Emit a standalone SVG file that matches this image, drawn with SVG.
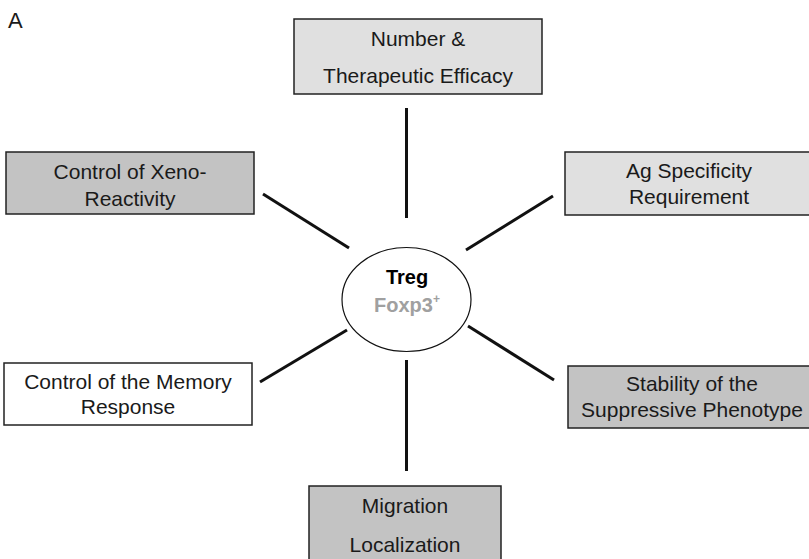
<svg xmlns="http://www.w3.org/2000/svg" width="809" height="559" viewBox="0 0 809 559">
<style>
.box{stroke:#222;stroke-width:1.5}
.light{fill:#e0e0e0}
.dark{fill:#c3c3c3}
.white{fill:#ffffff}
.t{font-family:"Liberation Sans",Arial,sans-serif;font-size:21px;fill:#1a1a1a;text-anchor:middle}
.c{stroke:#111;stroke-width:3;fill:none}
</style>
<rect width="809" height="559" fill="#fff"/>
<text x="8" y="28" style="font-family:'Liberation Sans',Arial,sans-serif;font-size:22px;fill:#1a1a1a">A</text>
<g id="connectors">
<line class="c" x1="406.5" y1="108" x2="406.5" y2="218"/>
<line class="c" x1="263" y1="194" x2="349" y2="248"/>
<line class="c" x1="466" y1="250" x2="553" y2="196"/>
<line class="c" x1="260" y1="382" x2="347" y2="330"/>
<line class="c" x1="468" y1="326" x2="554" y2="380"/>
<line class="c" x1="406.5" y1="360" x2="406.5" y2="471"/>
</g>
<g id="treg">
<ellipse cx="406.5" cy="299.5" rx="64.5" ry="52" fill="#fff" stroke="#111" stroke-width="1.2"/>
<text x="407" y="284" style="font-family:'Liberation Sans',Arial,sans-serif;font-size:20px;font-weight:bold;fill:#000;text-anchor:middle">Treg</text>
<text x="407" y="312" style="font-family:'Liberation Sans',Arial,sans-serif;font-size:20px;font-weight:bold;fill:#a0a0a0;text-anchor:middle">Foxp3<tspan font-size="12" dy="-9">+</tspan></text>
</g>
<g id="number">
<rect class="box light" x="294" y="19" width="248" height="75"/>
<text class="t" x="418" y="46">Number &amp;</text>
<text class="t" x="418" y="83">Therapeutic Efficacy</text>
</g>
<g id="xeno">
<rect class="box dark" x="6" y="152" width="248" height="62"/>
<text class="t" x="130" y="179">Control of Xeno-</text>
<text class="t" x="130" y="206">Reactivity</text>
</g>
<g id="ag">
<rect class="box light" x="565" y="152" width="252" height="63"/>
<text class="t" x="689" y="178">Ag Specificity</text>
<text class="t" x="689" y="204">Requirement</text>
</g>
<g id="memory">
<rect class="box white" x="4" y="363" width="248" height="62"/>
<text class="t" x="128" y="389">Control of the Memory</text>
<text class="t" x="128" y="414">Response</text>
</g>
<g id="stability">
<rect class="box dark" x="568" y="366" width="252" height="62"/>
<text class="t" x="692" y="391">Stability of the</text>
<text class="t" x="692" y="417">Suppressive Phenotype</text>
</g>
<g id="migration">
<rect class="box dark" x="309" y="486" width="192" height="80"/>
<text class="t" x="405" y="513">Migration</text>
<text class="t" x="405" y="552">Localization</text>
</g>
</svg>
